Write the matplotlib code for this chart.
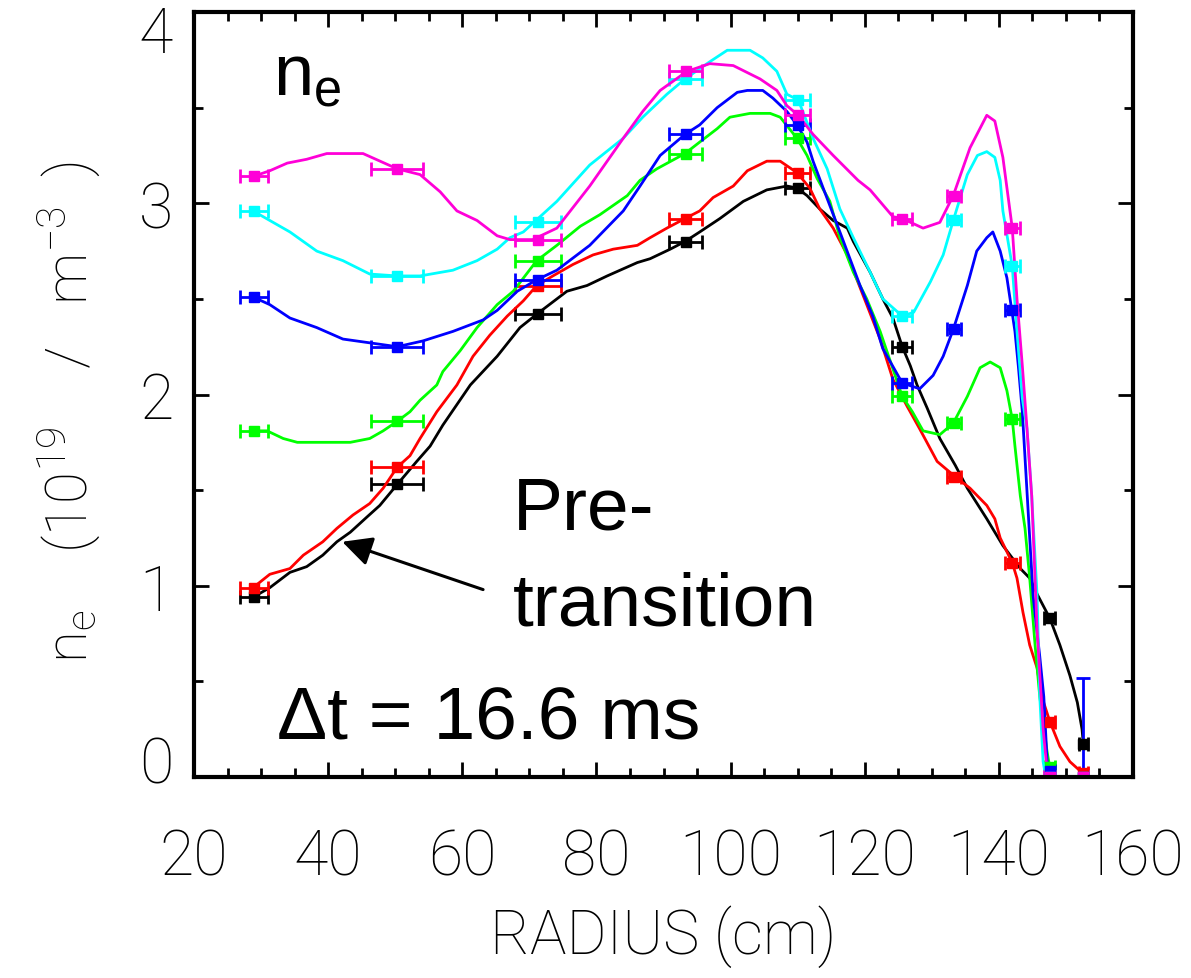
import numpy as np
import matplotlib
matplotlib.use("Agg")
import matplotlib.pyplot as plt
from matplotlib.ticker import MultipleLocator
from matplotlib.transforms import ScaledTranslation

plt.rcParams['font.family'] = ['Roboto', 'DejaVu Sans']
plt.rcParams['font.weight'] = 'light'
plt.rcParams['mathtext.default'] = 'regular'

# ---------------- measured points (radius in cm, n_e in 1e19 m^-3) -----------------
nan = np.nan
pos_r = [29.0, 50.3, 71.3, 93.3, 110.0, 125.6, 133.3, 142.0, 147.6, 152.6]
pos_err = [2.1, 3.9, 3.4, 2.5, 1.9, 1.5, 1.1, 1.1, 0.8, 0.7]

black_pts = [0.94, 1.53, 2.42, 2.80, 3.08, 2.25, nan, nan, 0.83, 0.17]
red_pts = [0.99, 1.62, 2.57, 2.92, 3.16, nan, 1.57, 1.12, 0.29, 0.02]
green_pts = [1.81, 1.86, 2.70, 3.26, 3.34, 1.99, 1.85, 1.87, 0.05, nan]
blue_pts = [2.51, 2.25, 2.60, 3.36, 3.41, 2.06, 2.34, 2.44, 0.03, 0.00]
cyan_pts = [2.96, 2.62, 2.90, 3.65, 3.54, 2.41, 2.91, 2.67, 0.00, 0.00]
magenta_pts = [3.14, 3.18, 2.81, 3.69, 3.46, 2.92, 3.04, 2.87, 0.00, 0.00]

blue_edge_r = 152.6
blue_edge_val = 0.0
blue_edge_yerr = 0.52

# ---------------- fitted profiles -----------------
black_cx = [28.8, 31.3, 34.3, 36.8, 39.2, 41.3, 43.3, 45.8, 47.7, 50.3, 53.2, 55.2, 57.1, 61.2,
            65.2, 68.6, 71.1, 75.6, 78.6, 81.6, 86.1, 88.0, 91.0, 93.2, 95.4, 98.4, 101.9, 105.4,
            108.4, 109.9, 111.4, 113.3, 115.3, 117.4, 118.3, 120.8, 122.7, 124.2, 125.6, 126.8,
            127.8, 129.3, 131.2, 133.5, 135.3, 138.2, 140.6, 143.2, 144.6, 145.8, 147.6, 149.1,
            150.6, 151.7, 152.4, 152.6]
black_cy = [0.94, 0.99, 1.07, 1.10, 1.16, 1.23, 1.28, 1.36, 1.42, 1.53, 1.65, 1.73, 1.84, 2.05,
            2.20, 2.35, 2.42, 2.54, 2.57, 2.62, 2.69, 2.71, 2.76, 2.80, 2.85, 2.92, 3.01, 3.07,
            3.09, 3.08, 3.04, 2.97, 2.91, 2.87, 2.80, 2.64, 2.50, 2.40, 2.25, 2.15,
            2.05, 1.93, 1.77, 1.63, 1.51, 1.35, 1.21, 1.09, 1.04, 0.95, 0.83, 0.69,
            0.53, 0.39, 0.25, 0.17]

red_cx = [28.8, 31.3, 34.3, 36.3, 39.2, 41.3, 43.7, 46.2, 48.2, 50.3, 52.2, 53.7, 56.2, 59.2,
          61.6, 64.1, 66.7, 69.1, 71.1, 73.5, 76.5, 79.5, 82.5, 86.1, 88.0, 90.5, 93.2, 95.4,
          97.4, 100.4, 102.5, 105.4, 107.4, 109.9, 111.8, 113.3, 115.3, 117.4, 120.3, 122.3,
          124.2, 126.3, 128.2, 130.8, 133.5, 135.7, 138.2, 139.4, 140.2, 142.0, 142.7, 143.6,
          144.6, 145.7, 146.4, 147.6, 149.1, 150.6, 152.5]
red_cy = [0.99, 1.06, 1.09, 1.16, 1.23, 1.30, 1.37, 1.43, 1.51, 1.62, 1.68, 1.77, 1.91, 2.05,
          2.20, 2.31, 2.41, 2.49, 2.57, 2.62, 2.68, 2.73, 2.76, 2.78, 2.82, 2.87, 2.92, 2.96,
          3.03, 3.09, 3.17, 3.22, 3.22, 3.16, 3.08, 2.97, 2.87, 2.73, 2.47, 2.29,
          2.08, 1.94, 1.82, 1.65, 1.57, 1.51, 1.42, 1.35, 1.25, 1.12, 1.04, 0.86,
          0.69, 0.57, 0.42, 0.29, 0.16, 0.08, 0.02]

green_cx = [28.8, 30.9, 33.3, 35.4, 39.2, 43.3, 46.2, 48.2, 50.3, 52.2, 53.7, 56.2, 57.1, 59.7,
            62.2, 65.2, 67.6, 71.1, 74.1, 77.6, 80.5, 84.6, 86.5, 89.0, 93.2, 95.4, 98.0, 99.9,
            102.9, 105.9, 107.4, 109.9, 111.4, 112.9, 114.8, 116.3, 118.3, 120.3, 122.3, 125.6,
            127.1, 128.7, 131.2, 133.2, 135.3, 137.2, 138.7, 140.2, 141.2, 142.0, 142.4, 143.2,
            143.9, 144.6, 145.4, 146.1, 147.2, 147.6]
green_cy = [1.81, 1.81, 1.77, 1.75, 1.75, 1.75, 1.77, 1.81, 1.86, 1.91, 1.97, 2.05, 2.12, 2.23,
            2.35, 2.47, 2.54, 2.70, 2.78, 2.88, 2.94, 3.04, 3.12, 3.18, 3.26, 3.32, 3.39, 3.45,
            3.47, 3.47, 3.45, 3.34, 3.25, 3.13, 3.01, 2.82, 2.64, 2.50, 2.33, 1.99,
            1.91, 1.81, 1.79, 1.85, 1.99, 2.14, 2.17, 2.14, 2.02, 1.87, 1.73, 1.47,
            1.30, 1.04, 0.69, 0.42, 0.13, 0.05]

blue_cx = [28.8, 31.3, 34.3, 38.3, 42.2, 50.3, 54.1, 58.6, 63.1, 65.2, 68.2, 71.1, 74.1, 79.0,
           84.0, 86.5, 89.5, 93.2, 95.4, 98.0, 101.0, 102.5, 104.8, 106.3, 108.4, 109.9, 111.4,
           112.3, 113.8, 116.3, 117.8, 119.3, 121.2, 122.7, 125.6, 128.2, 130.2, 131.7, 133.2,
           135.3, 136.7, 138.2, 139.1, 140.2, 141.2, 142.4, 142.9, 143.5, 145.1, 146.1, 146.7,
           147.2, 147.5]
blue_cy = [2.51, 2.47, 2.40, 2.35, 2.29, 2.25, 2.28, 2.33, 2.39, 2.44, 2.54, 2.60, 2.65, 2.78,
           2.96, 3.09, 3.25, 3.36, 3.41, 3.50, 3.58, 3.59, 3.59, 3.55, 3.48, 3.41, 3.32,
           3.22, 3.08, 2.85, 2.71, 2.57, 2.41, 2.24, 2.06, 2.03, 2.10, 2.20, 2.34,
           2.57, 2.75, 2.82, 2.85, 2.75, 2.61, 2.33, 2.15, 1.91, 0.95, 0.63, 0.42,
           0.08, 0.03]

cyan_cx = [28.8, 31.3, 34.3, 38.3, 42.2, 46.2, 50.3, 53.7, 58.6, 62.2, 65.2, 67.1, 69.1, 74.1,
           79.0, 84.0, 86.9, 90.5, 93.2, 96.9, 99.5, 102.9, 104.8, 106.9, 108.4, 110.1, 112.3,
           114.4, 116.3, 118.3, 120.8, 122.7, 125.6, 127.3, 129.8, 131.7, 133.2, 135.3, 136.8,
           138.2, 139.4, 140.2, 140.6, 142.0, 142.7, 143.5, 144.2, 144.9, 145.7, 146.1, 146.6,
           147.0]
cyan_cy = [2.96, 2.91, 2.85, 2.75, 2.70, 2.63, 2.62, 2.62, 2.65, 2.70, 2.76, 2.82, 2.85, 3.01,
           3.20, 3.34, 3.45, 3.57, 3.65, 3.74, 3.80, 3.80, 3.76, 3.69, 3.57, 3.54, 3.34,
           3.18, 2.97, 2.82, 2.64, 2.50, 2.41, 2.43, 2.59, 2.73, 2.91, 3.15, 3.25,
           3.27, 3.24, 3.12, 2.96, 2.67, 2.33, 1.98, 1.82, 1.47, 0.95, 0.42, 0.08,
           0.00]

magenta_cx = [28.8, 31.3, 33.9, 36.8, 39.8, 45.2, 50.3, 53.7, 56.7, 59.2, 62.2, 65.2, 67.1, 70.5,
              74.1, 79.0, 84.0, 86.9, 89.5, 93.5, 96.9, 100.4, 104.4, 106.9, 108.4, 110.1, 112.3,
              115.3, 119.0, 120.8, 124.2, 125.6, 128.7, 131.2, 133.2, 135.7, 138.2, 139.4, 140.6,
              142.0, 142.7, 143.5, 144.2, 144.9, 145.7, 146.6, 147.3, 152.6]
magenta_cy = [3.14, 3.17, 3.21, 3.23, 3.26, 3.26, 3.18, 3.15, 3.06, 2.96, 2.91, 2.83, 2.81, 2.81,
              2.87, 3.09, 3.34, 3.48, 3.59, 3.69, 3.73, 3.72, 3.65, 3.59, 3.51, 3.46, 3.36,
              3.25, 3.12, 3.07, 2.93, 2.92, 2.87, 2.90, 3.04, 3.29, 3.46, 3.43, 3.24,
              2.87, 2.50, 2.15, 1.82, 1.47, 0.77, 0.25, 0.00, 0.00]

series = [
    ('black', black_cx, black_cy, black_pts),
    ('#ff0000', red_cx, red_cy, red_pts),
    ('#00ff00', green_cx, green_cy, green_pts),
    ('#0000ff', blue_cx, blue_cy, blue_pts),
    ('#00ffff', cyan_cx, cyan_cy, cyan_pts),
    ('#ff00d8', magenta_cx, magenta_cy, magenta_pts),
]

# ---------------- plotting -----------------
fig = plt.figure(figsize=(11.91, 9.79), dpi=100)
ax = fig.add_axes([0.1629, 0.2053, 0.7884, 0.7814])

for color, cx, cy, pts in series:
    ax.plot(cx, cy, color=color, lw=2.0)
    ax.errorbar(pos_r, pts, xerr=pos_err, fmt='s', ms=7, color=color,
                ecolor=color, elinewidth=2, capsize=5, capthick=2)

ax.errorbar([blue_edge_r], [blue_edge_val], yerr=[blue_edge_yerr], fmt='none',
            ecolor='#0000ff', elinewidth=2, capsize=5, capthick=2)

ax.set_xlim(20, 160)
ax.set_ylim(0, 4)
ax.set_xticks(range(20, 161, 20))
ax.set_yticks(range(0, 5))
ax.xaxis.set_minor_locator(MultipleLocator(5))
ax.yaxis.set_minor_locator(MultipleLocator(0.5))
ax.tick_params(which='both', direction='in', top=True, right=True, width=2, labelsize=45)
ax.tick_params(which='major', length=11)
ax.tick_params(which='minor', length=6.5)
ax.tick_params(axis='x', pad=36)
ax.tick_params(axis='y', pad=15)
for sp in ax.spines.values():
    sp.set_linewidth(3)

# the end labels sit inside the frame in the original (0 raised, 4 lowered)
yt = ax.yaxis.get_major_ticks()
yt[0].label1.set_transform(yt[0].label1.get_transform()
                           + ScaledTranslation(0, 13 / 72, fig.dpi_scale_trans))
yt[4].label1.set_transform(yt[4].label1.get_transform()
                           + ScaledTranslation(0, -12 / 72, fig.dpi_scale_trans))

ax.set_xlabel('RADIUS (cm)', fontsize=44, fontweight='light', labelpad=12)
ax.set_ylabel(r'n$_{e}$    (10$^{19}$    /   m$^{-3}$  )', fontsize=42, fontweight='light')
ax.yaxis.set_label_coords(-0.098, 0.478)

big = ['Liberation Sans', 'DejaVu Sans']
ax.text(31.8, 3.57, r'n$_{e}$', family=big, fontsize=52, fontweight='normal', va='baseline')
ax.text(67.6, 1.30, 'Pre-', family=big, fontsize=54, fontweight='normal', va='baseline')
ax.text(67.6, 0.80, 'transition', family=big, fontsize=54, fontweight='normal', va='baseline')
ax.text(32.4, 0.20, '\u0394t = 16.6 ms', family=big, fontsize=54, fontweight='normal',
        va='baseline')
ax.annotate('', xy=(42.1, 1.23), xytext=(63.1, 0.98),
            arrowprops=dict(arrowstyle='-|>', color='black', lw=2.2,
                            mutation_scale=45, shrinkA=0, shrinkB=0))

plt.savefig('out.png', dpi=100)
